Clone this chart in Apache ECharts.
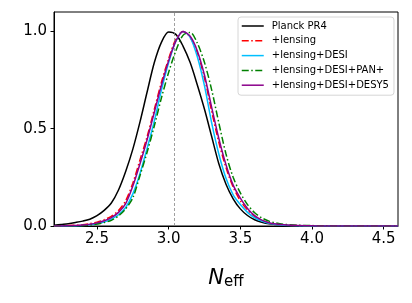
<!DOCTYPE html>
<html>
<head>
<meta charset="utf-8">
<script src="https://cdn.jsdelivr.net/npm/echarts@6/dist/echarts.min.js"></script>
<style>
html,body{margin:0;padding:0;background:#fff;}
#chart{width:412px;height:303px;}
</style>
</head>
<body>
<div id="chart"></div>
<script>
// ---- data ----
const seriesNames = ['Planck PR4', '+lensing', '+lensing+DESI', '+lensing+DESI+PAN+', '+lensing+DESI+DESY5'];

const planckX = [2.2,2.25,2.3,2.35,2.4,2.45,2.5,2.55,2.6,2.65,2.7,2.75,2.8,2.85,2.9,2.95,3.0,3.05,3.1,3.15,3.2,3.25,3.3,3.35,3.4,3.45,3.5,3.55,3.6,3.65,3.7,3.8,3.9,4.0,4.6];
const planckY = [0.004,0.008,0.012,0.018,0.025,0.035,0.053,0.08,0.118,0.185,0.28,0.395,0.535,0.69,0.84,0.945,0.997,0.985,0.925,0.84,0.725,0.60,0.46,0.32,0.215,0.14,0.088,0.054,0.032,0.019,0.011,0.004,0.001,0,0];

const extX = [2.2,2.3,2.4,2.45,2.5,2.55,2.6,2.65,2.7,2.75,2.8,2.85,2.9,2.95,3.0,3.05,3.1,3.15,3.2,3.25,3.3,3.35,3.4,3.45,3.5,3.55,3.6,3.65,3.7,3.75,3.8,3.9,4.0,4.1,4.2,4.6];
const lensingY = [0,0.002,0.006,0.012,0.02,0.032,0.05,0.08,0.13,0.22,0.34,0.46,0.60,0.74,0.86,0.96,1.0,0.97,0.89,0.76,0.59,0.43,0.30,0.20,0.13,0.082,0.048,0.028,0.016,0.009,0.005,0.002,0.001,0,0,0];
const desiY = [0,0,0.003,0.007,0.012,0.02,0.035,0.058,0.095,0.165,0.27,0.40,0.54,0.70,0.84,0.95,1.0,0.97,0.87,0.72,0.53,0.37,0.245,0.16,0.11,0.07,0.042,0.025,0.014,0.008,0.004,0.001,0,0,0,0];
const panY = [0,0.001,0.002,0.005,0.01,0.018,0.029,0.052,0.088,0.145,0.26,0.38,0.515,0.66,0.79,0.90,0.98,0.995,0.94,0.84,0.70,0.53,0.37,0.25,0.17,0.11,0.068,0.042,0.025,0.015,0.009,0.004,0.002,0.001,0,0];
const desy5Y = [0,0.001,0.005,0.009,0.016,0.027,0.043,0.07,0.115,0.205,0.32,0.445,0.585,0.725,0.85,0.95,1.0,0.975,0.90,0.775,0.61,0.45,0.315,0.21,0.143,0.09,0.053,0.03,0.017,0.01,0.006,0.002,0.001,0,0,0];

const xTicks = [2.5, 3.0, 3.5, 4.0, 4.5];
const yTicks = [0.0, 0.5, 1.0];
const refLineX = 3.044;

// ---- build chart ----
function pairs(xs, ys){ return xs.map((x,i)=>[x, ys[i]]); }
const FONT = 'DejaVu Sans';
const dashDot = [7, 2.5, 1.5, 2.5];

const styles = [
  {color:'#000000', type:'solid'},
  {color:'#ff0000', type:dashDot},
  {color:'#00bfff', type:'solid'},
  {color:'#008000', type:dashDot},
  {color:'#8b008b', type:'solid'}
];
const datas = [pairs(planckX, planckY), pairs(extX, lensingY), pairs(extX, desiY), pairs(extX, panY), pairs(extX, desy5Y)];

const series = seriesNames.map((name, i) => ({
  name: name,
  type: 'line',
  data: datas[i],
  smooth: 0.3,
  showSymbol: false,
  symbol: 'none',
  color: styles[i].color,
  lineStyle: {color: styles[i].color, width: 1.5, type: styles[i].type},
  z: 2 + i,
  animation: false
}));
series[0].markLine = {
  silent: true,
  symbol: ['none','none'],
  label: {show:false},
  lineStyle: {color:'#888888', width: 0.8, type:[3,2]},
  data: [{xAxis: refLineX}],
  animation: false
};

const chart = echarts.init(document.getElementById('chart'), null, {renderer:'canvas'});
chart.setOption({
  animation: false,
  backgroundColor: '#ffffff',
  grid: {left: 54, top: 12, width: 344, height: 214, show: true, borderColor: '#000', borderWidth: 1, backgroundColor: 'transparent'},
  legend: {
    show: true,
    orient: 'vertical',
    left: 238, top: 17,
    padding: [4, 5, 5, 3],
    itemWidth: 22, itemHeight: 10, itemGap: 4.8,
    borderColor: '#d6d6d6', borderWidth: 1, borderRadius: 3,
    backgroundColor: 'rgba(255,255,255,0.85)',
    itemStyle: {opacity: 0},
    lineStyle: {width: 1.5},
    textStyle: {fontFamily: FONT, fontSize: 10, color: '#000', padding: [0,0,0,3]},
    data: seriesNames
  },
  xAxis: {
    type: 'value', min: 2.2, max: 4.6,
    name: '{n|N}{s|eff}',
    nameLocation: 'middle', nameGap: 41,
    nameTextStyle: {rich: {
      n: {fontFamily: FONT, fontStyle: 'italic', fontSize: 21, color:'#000'},
      s: {fontFamily: FONT, fontSize: 15, color:'#000', padding: [8,0,0,0]}
    }},
    axisLine: {show: true, onZero: false, lineStyle: {color:'#000', width: 1}},
    axisTick: {show: true, inside: false, length: 3.5, lineStyle:{color:'#000', width: 1}, customValues: xTicks},
    axisLabel: {show: true, fontFamily: FONT, fontSize: 15, color: '#000', margin: 6, customValues: xTicks, formatter: v => Number(v).toFixed(1)},
    splitLine: {show: false}
  },
  yAxis: {
    type: 'value', min: 0, max: 1.1,
    axisLine: {show: true, onZero: false, lineStyle: {color:'#000', width: 1}},
    axisTick: {show: true, inside: false, length: 3.5, lineStyle:{color:'#000', width: 1}, customValues: yTicks},
    axisLabel: {show: true, fontFamily: FONT, fontSize: 15, color: '#000', margin: 7, customValues: yTicks, formatter: v => Number(v).toFixed(1)},
    splitLine: {show: false}
  },
  series: series
});
</script>
</body>
</html>
